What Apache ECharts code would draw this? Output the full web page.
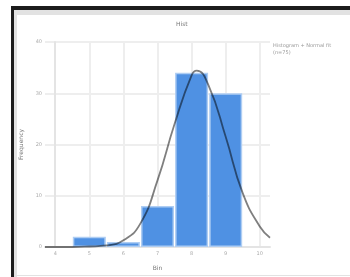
<!DOCTYPE html>
<html>
<head>
<meta charset="utf-8">
<script src="https://cdn.jsdelivr.net/npm/echarts@6/dist/echarts.min.js"></script>
<style>
  html, body { margin: 0; padding: 0; background: #fff; }
  #chart { width: 350px; height: 277px; }
</style>
</head>
<body>
<div id="chart"></div>
<script>
// bins (centre) and counts
var binCenters = [1, 2, 3, 4, 5];
var binCounts = [2, 1, 8, 34, 30];
// tick labels on the x axis
var xTicks = [0, 1, 2, 3, 4, 5, 6];
var xTickLabels = ['4', '5', '6', '7', '8', '9', '10'];
// fitted curve
var curveX = [-0.3, 0.5, 1.0, 1.5, 2.0, 2.5, 3.0, 3.5, 4.0, 4.15, 4.5, 5.0, 5.5, 6.0, 6.3];
var curveY = [0, 0, 0.1, 0.3, 1.3, 4.6, 13, 24, 33.5, 34.4, 31.5, 21.5, 10.5, 4, 1.8];

var chart = echarts.init(document.getElementById('chart'));

var barData = binCenters.map(function (c, i) { return [c, binCounts[i]]; });
var curveData = curveX.map(function (x, i) { return [x, curveY[i]]; });

var option = {
    animation: false,
    textStyle: { fontFamily: 'DejaVu Sans' },
    grid: { left: 45, right: 80, top: 42, bottom: 30 },
    xAxis: {
        type: 'value',
        min: -0.3,
        max: 6.3,
        name: 'Bin',
        nameLocation: 'middle',
        nameGap: 18,
        nameTextStyle: { fontSize: 6, color: '#777' },
        axisLine: { show: true, onZero: false, lineStyle: { color: '#e4e4e4', width: 2 } },
        axisTick: { show: false, customValues: xTicks },
        axisLabel: {
            customValues: xTicks,
            fontSize: 5,
            color: '#aaa',
            margin: 4,
            formatter: function (v) {
                var i = xTicks.indexOf(Math.round(v));
                return i >= 0 ? xTickLabels[i] : '';
            }
        },
        splitLine: { show: true, lineStyle: { color: '#eeeeee', width: 2 } }
    },
    yAxis: {
        type: 'value',
        min: 0,
        max: 40,
        interval: 10,
        name: 'Frequency',
        nameLocation: 'middle',
        nameGap: 19,
        nameTextStyle: { fontSize: 6, color: '#777' },
        axisLine: { show: true, lineStyle: { color: '#e4e4e4', width: 2 } },
        axisTick: { show: false },
        axisLabel: { fontSize: 5, color: '#aaa', margin: 3 },
        splitLine: { show: true, lineStyle: { color: '#eeeeee', width: 2 } }
    },
    series: [
        {
            name: 'Histogram',
            type: 'bar',
            data: barData,
            barWidth: 33,
            itemStyle: {
                color: '#4f91e3',
                borderColor: '#aecdf3',
                borderWidth: 1.5
            },
            z: 2
        },
        {
            name: 'Normal fit',
            type: 'line',
            data: curveData,
            smooth: true,
            showSymbol: false,
            lineStyle: { color: 'rgba(0,0,0,0.5)', width: 1.8 },
            z: 3
        }
    ],
    graphic: [
        { type: 'rect', shape: { x: 11, y: 6, width: 339, height: 4 }, style: { fill: '#1c1c1c' }, z: 10 },
        { type: 'rect', shape: { x: 11, y: 6, width: 3, height: 271 }, style: { fill: '#1c1c1c' }, z: 10 },
        { type: 'rect', shape: { x: 14, y: 10, width: 336, height: 5 }, style: { fill: '#e2e2e2' }, z: 10 },
        { type: 'rect', shape: { x: 14, y: 10, width: 3, height: 267 }, style: { fill: '#e2e2e2' }, z: 10 },
        { type: 'rect', shape: { x: 14, y: 275, width: 336, height: 1 }, style: { fill: '#e2e2e2' }, z: 10 },
        { type: 'text', left: 176, top: 21, style: { text: 'Hist', fontSize: 6, fill: '#777', fontFamily: 'DejaVu Sans' } },
        { type: 'text', left: 273, top: 42, style: { text: 'Histogram + Normal fit\n(n=75)', fontSize: 5, lineHeight: 7, fill: '#999', fontFamily: 'DejaVu Sans' } }
    ]
};
chart.setOption(option);
</script>
</body>
</html>
